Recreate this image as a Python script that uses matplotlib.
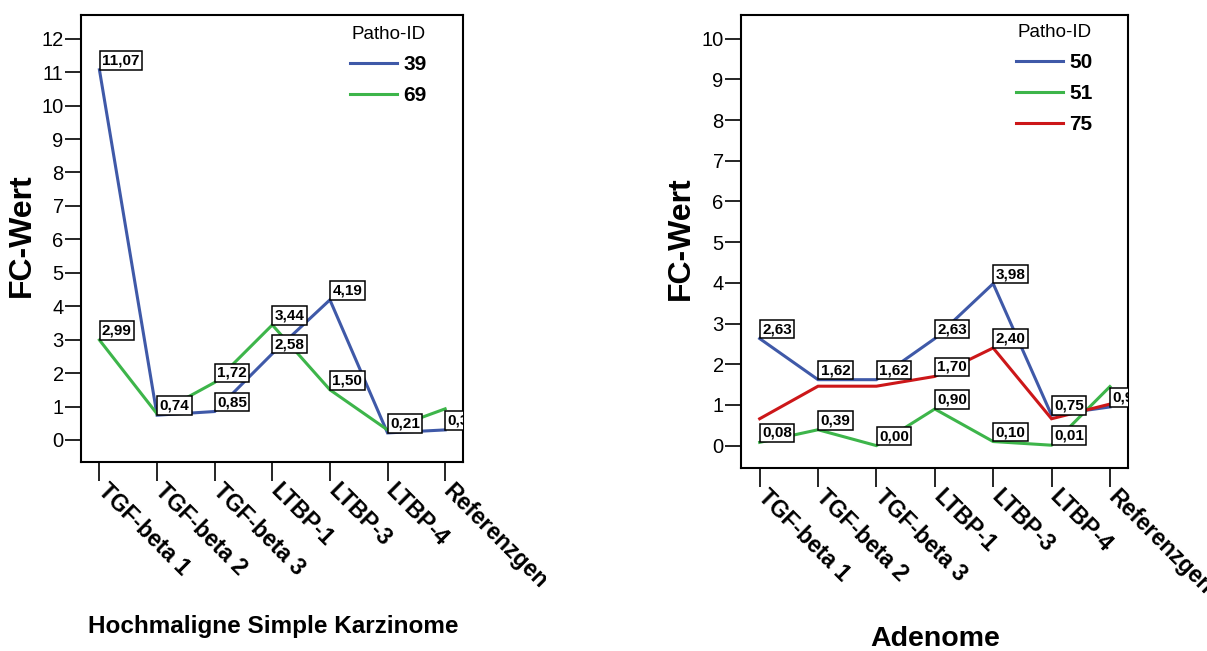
import matplotlib
matplotlib.use("Agg")
import matplotlib.pyplot as plt
from matplotlib.transforms import Bbox, TransformedBbox, ScaledTranslation

plt.rcParams['font.family'] = ['Liberation Sans', 'DejaVu Sans']

# ---------------- data ----------------
categories = ["TGF-beta 1", "TGF-beta 2", "TGF-beta 3", "LTBP-1", "LTBP-3", "LTBP-4", "Referenzgen"]

# Left panel: Hochmaligne Simple Karzinome
left_ids = ["39", "69"]
left_39 = [11.07, 0.74, 0.85, 2.58, 4.19, 0.21, 0.30]
left_69 = [2.99, 0.78, 1.72, 3.44, 1.50, 0.30, 0.93]
left_39_show = [True, True, True, True, True, True, True]
left_69_show = [True, False, True, True, True, False, False]

# Right panel: Adenome
right_ids = ["50", "51", "75"]
right_50 = [2.63, 1.62, 1.62, 2.63, 3.98, 0.75, 0.95]
right_51 = [0.08, 0.39, 0.00, 0.90, 0.10, 0.01, 1.45]
right_75 = [0.66, 1.46, 1.46, 1.70, 2.40, 0.66, 1.02]
right_50_show = [True, True, True, True, True, True, True]
right_51_show = [True, True, True, True, True, True, False]
right_75_show = [False, False, False, True, True, False, False]

left_yticks = list(range(0, 13))
right_yticks = list(range(0, 11))

BLUE = "#3F59A8"
GREEN = "#3DB54A"
RED = "#CC1719"

W, H = 1207, 651
fig = plt.figure(figsize=(W / 100, H / 100), dpi=100)

ax1 = fig.add_axes([81 / W, 1 - 462 / H, 382 / W, 447 / H])
ax2 = fig.add_axes([741 / W, 1 - 468 / H, 387 / W, 453 / H])


def fmt(v):
    return f"{v:.2f}".replace(".", ",")


def style_axes(ax, yticks, ylim, clip_right):
    x = list(range(len(categories)))
    ax.set_xlim(-0.32, 6.31)
    ax.set_ylim(*ylim)
    for sp in ax.spines.values():
        sp.set_linewidth(1.5)
        sp.set_color("black")
    ax.tick_params(axis="y", length=11.5, width=1.2, pad=1, colors="black")
    ax.tick_params(axis="x", length=14, width=1.2, pad=0, colors="black")
    ax.set_yticks(yticks)
    ax.set_yticklabels([str(t) for t in yticks], fontsize=14.5)
    ax.set_xticks(x)
    labs = ax.set_xticklabels(categories, rotation=-45, ha="left", va="top",
                              rotation_mode="anchor", fontsize=16.5, fontweight="bold")
    clipbox = TransformedBbox(Bbox([[0, 0], [clip_right / W, 1]]), fig.transFigure)
    shift = ScaledTranslation(10 / 100, 2 / 100, fig.dpi_scale_trans)
    for lab in labs:
        lab.set_transform(lab.get_transform() + shift)
        lab.set_clip_on(True)
        lab.set_clip_box(clipbox)


def draw_series(ax, series, colors, ids, shows):
    x = list(range(len(categories)))
    for vals, c, name in zip(series, colors, ids):
        ax.plot(x, vals, color=c, lw=2.2, label=name, solid_joinstyle="miter", zorder=2)
    for vals, show in zip(series, shows):
        for xi, v, s in zip(x, vals, show):
            if not s:
                continue
            ax.annotate(fmt(v), xy=(xi, v), xytext=(1.8, 1.8), textcoords="offset points",
                        ha="left", va="bottom", fontsize=11, fontweight="bold",
                        bbox=dict(boxstyle="square,pad=0.15", fc="white", ec="black", lw=1.1),
                        zorder=5, annotation_clip=False, clip_on=True)


style_axes(ax1, left_yticks, (-0.66, 12.71), 546)
style_axes(ax2, right_yticks, (-0.55, 10.58), 1207)

draw_series(ax1, [left_39, left_69], [BLUE, GREEN], left_ids, [left_39_show, left_69_show])
draw_series(ax2, [right_50, right_51, right_75], [BLUE, GREEN, RED], right_ids,
            [right_50_show, right_51_show, right_75_show])

for ax, anchor in [(ax1, (0.704, 0.975)), (ax2, (0.71, 0.98))]:
    leg = ax.legend(title="Patho-ID", loc="upper left", bbox_to_anchor=anchor,
                    frameon=False, prop={"weight": "bold", "size": 15},
                    title_fontsize=13.5, handlelength=2.26, handletextpad=0.32,
                    labelspacing=0.58, borderpad=0, borderaxespad=0)

fig.text(22 / W, 1 - 235 / H, "FC-Wert", rotation=90, ha="center", va="center",
         fontsize=23, fontweight="bold")
fig.text(681 / W, 1 - 238 / H, "FC-Wert", rotation=90, ha="center", va="center",
         fontsize=23, fontweight="bold")

fig.text(273 / W, 1 - 627 / H, "Hochmaligne Simple Karzinome", ha="center", va="center",
         fontsize=17.5, fontweight="bold")
fig.text(935 / W, 1 - 639 / H, "Adenome", ha="center", va="center",
         fontsize=20.5, fontweight="bold")

fig.savefig("out.png", dpi=100, facecolor="white")
